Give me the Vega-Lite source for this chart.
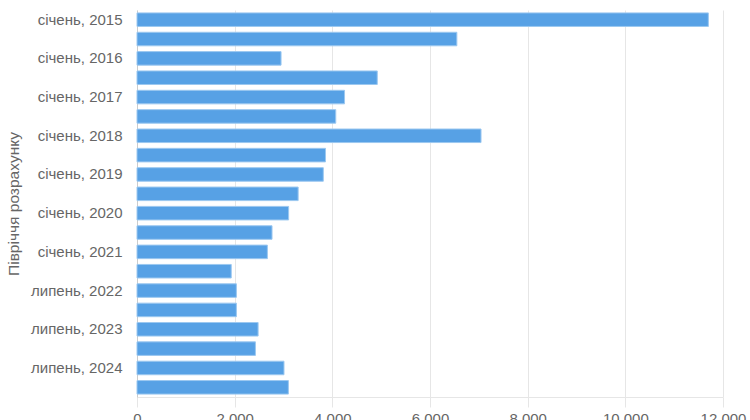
{
  "$schema": "https://vega.github.io/schema/vega-lite/v6.json",
  "width": 586,
  "height": 387,
  "autosize": {"type": "none"},
  "padding": {"left": 137, "top": 10, "right": 27, "bottom": 23},
  "background": "white",
  "config": {
    "view": {"stroke": null},
    "font": "Liberation Sans"
  },
  "data": {
    "values": [
      {"period": "січень, 2015", "value": 11700},
      {"period": "липень, 2015", "value": 6550},
      {"period": "січень, 2016", "value": 2950},
      {"period": "липень, 2016", "value": 4920},
      {"period": "січень, 2017", "value": 4250},
      {"period": "липень, 2017", "value": 4070},
      {"period": "січень, 2018", "value": 7045},
      {"period": "липень, 2018", "value": 3860},
      {"period": "січень, 2019", "value": 3815},
      {"period": "липень, 2019", "value": 3300},
      {"period": "січень, 2020", "value": 3105},
      {"period": "липень, 2020", "value": 2765},
      {"period": "січень, 2021", "value": 2670},
      {"period": "січень, 2022", "value": 1930},
      {"period": "липень, 2022", "value": 2035},
      {"period": "січень, 2023", "value": 2035},
      {"period": "липень, 2023", "value": 2480},
      {"period": "січень, 2024", "value": 2425},
      {"period": "липень, 2024", "value": 3010},
      {"period": "січень, 2025", "value": 3100}
    ]
  },
  "mark": {"type": "bar", "color": "#57a1e5", "stroke": "#9cc8f0", "strokeWidth": 1},
  "encoding": {
    "y": {
      "field": "period",
      "type": "nominal",
      "sort": null,
      "scale": {"paddingInner": 0.3, "paddingOuter": 0.15},
      "axis": {
        "title": "Півріччя розрахунку",
        "titleFontSize": 15.5,
        "titleFontWeight": "normal",
        "titleColor": "#666666",
        "titlePadding": 9,
        "values": ["січень, 2015", "січень, 2016", "січень, 2017", "січень, 2018", "січень, 2019", "січень, 2020", "січень, 2021", "липень, 2022", "липень, 2023", "липень, 2024"],
        "labelFontSize": 15,
        "labelColor": "#666666",
        "labelPadding": 15,
        "ticks": false,
        "domainColor": "#cccccc",
        "grid": false
      }
    },
    "x": {
      "field": "value",
      "type": "quantitative",
      "scale": {"domain": [0, 12000], "nice": false},
      "axis": {
        "title": null,
        "values": [0, 2000, 4000, 6000, 8000, 10000, 12000],
        "labelExpr": "replace(format(datum.value, ','), ',', ' ')",
        "labelFontSize": 15,
        "labelColor": "#666666",
        "labelPadding": 4,
        "tickSize": 10,
        "tickColor": "#e6e6e6",
        "domainColor": "#e6e6e6",
        "gridColor": "#e6e6e6",
        "labelFlush": false
      }
    }
  }
}
